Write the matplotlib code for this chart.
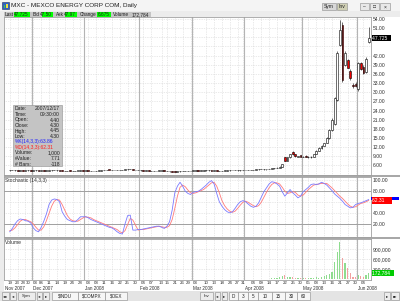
import numpy as np
import pandas as pd
import matplotlib
matplotlib.use("Agg")
import matplotlib.pyplot as plt
from matplotlib.patches import Rectangle
from matplotlib.transforms import blended_transform_factory

# ---------------- Data ----------------
holidays = ["2007-11-22", "2007-12-25", "2008-01-01", "2008-01-21",
            "2008-02-18", "2008-03-21", "2008-05-26"]

opens = [4.35, 4.40, 4.45, 4.35, 4.30, 4.35, 4.30, 4.40, 4.35,
         4.30, 4.35, 4.40, 4.30, 4.35, 4.30, 4.30, 4.35, 4.40, 4.40, 4.40, 4.30, 4.25, 4.20, 4.30, 4.25, 4.20, 4.25, 4.30, 4.35,
         4.30, 4.30, 4.25, 4.20, 4.20, 4.25, 4.30, 4.40, 4.50, 4.60, 4.55, 4.50, 4.45, 4.40, 4.50, 4.60, 4.70, 4.80, 4.75, 4.60, 4.50,
         4.40, 4.35, 4.30, 4.30, 4.25, 4.20, 4.20, 4.25, 4.30, 4.35, 4.30, 4.10, 4.00, 3.95, 3.90, 4.00, 4.10, 4.20, 4.25, 4.20,
         4.25, 4.30, 4.30, 4.25, 4.30, 4.35, 4.40, 4.35, 4.30, 4.30, 4.25, 4.20, 4.25, 4.30, 4.35, 4.40, 4.45, 4.40, 4.35, 4.40,
         4.45, 4.50, 4.55, 4.50, 4.60, 4.70, 4.80, 4.75, 4.70, 4.80, 4.90, 5.00, 5.10, 5.30, 5.60, 8.60, 7.60, 8.70, 10.40, 9.60, 8.80, 9.30,
         8.70, 9.20, 8.60, 8.60, 8.90, 9.70, 10.70, 11.70, 12.50, 13.40, 15.00, 17.50, 19.50, 27.40, 45.50, 52.00, 38.80, 40.50, 37.00, 32.50, 32.60,
         31.20, 39.60, 38.30, 36.50, 46.50]

highs = [4.45, 4.50, 4.45, 4.40, 4.40, 4.40, 4.45, 4.40, 4.40,
         4.40, 4.45, 4.40, 4.40, 4.35, 4.35, 4.40, 4.45, 4.45, 4.45, 4.45, 4.35, 4.30, 4.30, 4.35, 4.30, 4.30, 4.30, 4.40, 4.40,
         4.35, 4.30, 4.30, 4.25, 4.30, 4.35, 4.45, 4.55, 4.65, 4.65, 4.60, 4.55, 4.50, 4.55, 4.65, 4.75, 4.90, 4.85, 4.80, 4.60, 4.55,
         4.45, 4.40, 4.35, 4.35, 4.30, 4.25, 4.30, 4.35, 4.40, 4.40, 4.30, 4.15, 4.05, 4.00, 4.05, 4.15, 4.25, 4.30, 4.30, 4.30,
         4.35, 4.35, 4.35, 4.35, 4.40, 4.45, 4.45, 4.40, 4.35, 4.35, 4.30, 4.30, 4.35, 4.40, 4.45, 4.50, 4.50, 4.45, 4.45, 4.50,
         4.55, 4.60, 4.60, 4.65, 4.75, 4.85, 4.85, 4.80, 4.85, 4.95, 5.05, 5.20, 5.40, 5.70, 6.60, 8.80, 8.70, 9.90, 10.60, 9.80, 9.10, 9.40,
         9.00, 9.30, 9.00, 9.00, 9.80, 10.90, 11.90, 12.70, 13.50, 15.20, 17.80, 21.50, 28.50, 43.50, 53.80, 53.00, 43.50, 41.00, 37.50, 33.00, 33.20,
         40.00, 40.00, 38.80, 41.50, 51.30]

lows = [4.30, 4.35, 4.30, 4.25, 4.25, 4.25, 4.30, 4.30, 4.25,
        4.25, 4.30, 4.25, 4.25, 4.25, 4.25, 4.25, 4.30, 4.35, 4.30, 4.30, 4.20, 4.15, 4.15, 4.20, 4.15, 4.15, 4.20, 4.25, 4.25,
        4.25, 4.20, 4.15, 4.15, 4.15, 4.20, 4.25, 4.35, 4.45, 4.50, 4.45, 4.40, 4.35, 4.35, 4.45, 4.55, 4.65, 4.70, 4.55, 4.45, 4.35,
        4.30, 4.25, 4.25, 4.20, 4.15, 4.15, 4.15, 4.20, 4.25, 4.25, 4.05, 3.95, 3.90, 3.85, 3.85, 3.95, 4.05, 4.15, 4.15, 4.15,
        4.20, 4.25, 4.20, 4.20, 4.25, 4.30, 4.30, 4.25, 4.25, 4.20, 4.15, 4.15, 4.20, 4.25, 4.30, 4.35, 4.35, 4.30, 4.30, 4.35,
        4.40, 4.45, 4.45, 4.45, 4.55, 4.65, 4.70, 4.65, 4.65, 4.75, 4.85, 4.95, 5.05, 5.25, 5.50, 7.40, 7.50, 8.50, 9.50, 8.90, 8.70, 8.70,
        8.60, 8.60, 8.50, 8.50, 8.80, 9.60, 10.60, 11.50, 12.30, 13.20, 14.80, 17.20, 19.20, 27.00, 45.00, 33.50, 38.50, 37.80, 34.00, 31.50, 31.60,
        30.50, 37.20, 36.00, 36.20, 46.00]

closes = [4.40, 4.45, 4.35, 4.30, 4.35, 4.30, 4.40, 4.35, 4.30,
          4.35, 4.40, 4.30, 4.35, 4.30, 4.30, 4.35, 4.40, 4.40, 4.35, 4.30, 4.25, 4.20, 4.30, 4.25, 4.20, 4.25, 4.30, 4.35, 4.30,
          4.30, 4.25, 4.20, 4.20, 4.25, 4.30, 4.40, 4.50, 4.60, 4.55, 4.50, 4.45, 4.40, 4.50, 4.60, 4.70, 4.80, 4.75, 4.60, 4.50, 4.40,
          4.35, 4.30, 4.30, 4.25, 4.20, 4.20, 4.25, 4.30, 4.35, 4.30, 4.10, 4.00, 3.95, 3.90, 4.00, 4.10, 4.20, 4.25, 4.20, 4.25,
          4.30, 4.30, 4.25, 4.30, 4.35, 4.40, 4.35, 4.30, 4.30, 4.25, 4.20, 4.25, 4.30, 4.35, 4.40, 4.45, 4.40, 4.35, 4.40, 4.45,
          4.50, 4.55, 4.50, 4.60, 4.70, 4.80, 4.75, 4.70, 4.80, 4.90, 5.00, 5.10, 5.30, 5.60, 6.40, 7.50, 8.60, 9.70, 9.60, 9.00, 8.90, 8.80,
          8.80, 8.70, 8.90, 8.80, 9.70, 10.70, 11.70, 12.50, 13.30, 15.00, 17.50, 21.00, 28.00, 42.80, 50.40, 34.00, 42.80, 38.00, 34.50, 31.90, 32.00,
          39.60, 37.50, 36.20, 41.05, 47.725]

volumes = [3000, 1500, 2000, 5000, 1000, 2500, 3000, 1200, 4000,
           2000, 3500, 1500, 6000, 2000, 1000, 2500, 3000, 1500, 4000, 1000, 2000, 5000, 1500, 3000, 2000, 1000, 2500, 1200, 3000,
           2000, 4000, 3500, 2500, 1500, 3000, 6000, 8000, 12000, 5000, 4000, 3000, 2500, 6000, 9000, 11000, 15000, 7000, 5000, 4000, 3000,
           2500, 2000, 1500, 3000, 4000, 2000, 2500, 3500, 2000, 3000, 8000, 9000, 6000, 7000, 5000, 4000, 3500, 2000, 2500, 3000,
           2000, 1500, 3000, 2500, 2000, 4000, 3000, 2000, 1500, 2500, 3000, 2000, 2500, 3500, 4000, 5000, 3000, 2500, 3000, 4000,
           5000, 6000, 4000, 7000, 9000, 12000, 8000, 6000, 10000, 15000, 20000, 25000, 35000, 60000, 95000, 110000, 60000, 70000, 55000, 40000, 30000, 35000,
           25000, 30000, 20000, 25000, 40000, 50000, 45000, 60000, 90000, 120000, 150000, 210000, 500000, 800000, 1100000, 630000, 480000, 330000, 180000, 70000, 60000,
           120000, 90000, 60000, 120000, 172784]

# Stochastic (14,3,3): %K blue, %D red
stoch_k = [6, 12, 20, 26, 29, 28, 26, 25, 22, 13,
           8, 6, 14, 25, 38, 55, 63, 65, 64, 60,
           42, 34, 28, 26, 24, 24, 28, 33, 33, 33,
           31, 28, 26, 24, 22, 20, 18, 16, 14, 13,
           10, 6, 3, 2, 20, 35, 36, 9, 9, 10,
           10, 11, 12, 13, 14, 15, 16, 16, 14, 12,
           16, 24, 45, 76, 88, 95, 88, 79, 75, 73,
           77, 78, 79, 82, 86, 90, 95, 98, 92, 75,
           60, 52, 46, 42, 40, 42, 48, 55, 60, 62,
           60, 56, 52, 50, 52, 58, 68, 78, 85, 92,
           96, 95, 92, 88, 78, 70, 76, 82, 76, 72,
           67, 70, 78, 82, 86, 91, 92, 91, 92, 95,
           93, 90, 85, 80, 74, 70, 66, 61, 55, 52,
           49, 50, 55, 57, 58, 60, 62, 63.86]

stoch_d = [8, 9, 13, 19, 25, 28, 28, 26, 24, 20,
           14, 9, 9, 15, 26, 39, 52, 61, 64, 63,
           55, 45, 35, 29, 26, 25, 25, 28, 31, 33,
           32, 31, 28, 26, 24, 22, 20, 18, 16, 14,
           12, 10, 6, 4, 8, 19, 30, 27, 18, 9,
           10, 10, 11, 12, 13, 14, 15, 16, 15, 14,
           14, 17, 28, 48, 70, 86, 90, 87, 81, 76,
           75, 76, 78, 80, 82, 86, 90, 94, 95, 88,
           76, 62, 53, 47, 43, 41, 43, 48, 54, 59,
           61, 59, 56, 53, 51, 53, 59, 68, 77, 85,
           91, 94, 94, 92, 86, 79, 75, 76, 78, 77,
           72, 70, 72, 77, 82, 86, 90, 91, 92, 93,
           93, 93, 89, 85, 80, 75, 70, 66, 61, 56,
           52, 50, 51, 54, 57, 58, 60, 62.31]

tick_dates = ["2007-11-19", "2007-11-23", "2007-11-28", "2007-11-30",
              "2007-12-03", "2007-12-06", "2007-12-11", "2007-12-14", "2007-12-19", "2007-12-24", "2007-12-28",
              "2008-01-03", "2008-01-08", "2008-01-11", "2008-01-16", "2008-01-22", "2008-01-25", "2008-01-30",
              "2008-02-04", "2008-02-07", "2008-02-13", "2008-02-15", "2008-02-21", "2008-02-26", "2008-02-29",
              "2008-03-03", "2008-03-10", "2008-03-13", "2008-03-18", "2008-03-24", "2008-03-27", "2008-03-31",
              "2008-04-04", "2008-04-09", "2008-04-14", "2008-04-17", "2008-04-22", "2008-04-25", "2008-04-30",
              "2008-05-05", "2008-05-08", "2008-05-13", "2008-05-16", "2008-05-21", "2008-05-27", "2008-05-30",
              "2008-06-04"]
month_names = ["Nov 2007", "Dec 2007", "Jan 2008", "Feb 2008", "Mar 2008", "Apr 2008", "May 2008", "Jun 2008"]

price_levels = [6, 9, 12, 15, 18, 21, 24, 27, 30, 33, 36, 39, 42, 45, 48, 51, 54]
price_hidden = [45, 48]          # labels covered by the last-price tag
stoch_levels = [20, 40, 60, 80, 100]
stoch_hidden = [60]
volume_levels = [300000, 600000, 900000]

# ---------------- Setup ----------------
plt.rcParams['font.family'] = ['Liberation Sans', 'DejaVu Sans']
W, H = 400, 301
FS = 3.6
GRID = '#d4d4d4'
SEP = '#b4b4b4'
TXT = '#303030'

days = pd.bdate_range("2007-11-19", "2008-06-06")
days = days[~days.isin(pd.to_datetime(holidays))]
x = np.arange(len(days))
o, h, l, c = map(np.array, (opens, highs, lows, closes))
up = c >= o

tick_bars = [days.get_loc(pd.Timestamp(d)) for d in tick_dates]
month_starts = [0] + [i for i in range(1, len(days)) if days[i].month != days[i - 1].month]

fig = plt.figure(figsize=(W / 100, H / 100), dpi=100, facecolor='#ececec')


def px_axes(x0, y0, x1, y1, **kw):
    """ axes placed by pixel box (top-left origin) """
    return fig.add_axes([x0 / W, 1 - y1 / H, (x1 - x0) / W, (y1 - y0) / H], **kw)


def canvas():
    ax = px_axes(0, 0, W, H)
    ax.set_xlim(0, W)
    ax.set_ylim(H, 0)
    ax.axis('off')
    ax.patch.set_alpha(0)
    return ax


# background layer
bg = canvas()
bg.add_patch(Rectangle((4, 17), 396, 274, fc='white', ec='none'))
for y0 in (175, 237):
    bg.add_patch(Rectangle((4, y0), 396, 2, fc='#a8a8a8', ec='none'))
bg.add_patch(Rectangle((0, 0), W, 11, fc='#f4f4f4', ec='none'))

XL = (-2.19, 137.89)


def style_panel(ax, levels, ylim, fmt, hidden=()):
    ax.set_xlim(*XL)
    ax.set_ylim(*ylim)
    ax.set_xticks(tick_bars)
    ax.set_yticks(levels)
    ax.set_yticklabels(['' if v in hidden else fmt(v) for v in levels])
    ax.yaxis.tick_right()
    ax.tick_params(axis='y', length=0, pad=1.5, labelsize=FS, colors=TXT)
    ax.tick_params(axis='x', length=0, labelbottom=False)
    ax.grid(True, color=GRID, ls=(0, (1, 1.5)), lw=0.5)
    ax.set_axisbelow(True)
    for s in ax.spines.values():
        s.set_color('#a0a0a0')
        s.set_linewidth(0.6)
    for m in month_starts[1:]:
        ax.axvline(m - 0.5, color=SEP, lw=0.8, zorder=1)


# ---------------- Price panel ----------------
ax_p = px_axes(4, 17, 371, 175)
style_panel(ax_p, price_levels, (2.85, 54.66), lambda v: '%.2f' % v, price_hidden)
ax_p.vlines(x, l, h, color='black', lw=0.4, zorder=3)
body_lo = np.minimum(o, c)
body_h = np.maximum(np.abs(c - o), 0.12)
ax_p.bar(x, body_h, bottom=body_lo, width=0.7,
         color=np.where(up, 'white', '#ee0000'), edgecolor='black', lw=0.4, zorder=4)

# ---------------- Stochastic panel ----------------
ax_s = px_axes(4, 177, 371, 237)
style_panel(ax_s, stoch_levels, (-3.4, 104.5), lambda v: '%.2f' % v, stoch_hidden)
for lvl in (20, 80):
    ax_s.axhline(lvl, color='#a0a0a0', lw=0.7, zorder=1)
ax_s.plot(x, stoch_d, color='#ff7a7a', lw=0.6, zorder=3)
ax_s.plot(x, stoch_k, color='#7a7aff', lw=0.6, zorder=4)
ax_s.text(0.004, 0.985, 'Stochastic (14,3,3)', transform=ax_s.transAxes,
          fontsize=FS, va='top', ha='left', color=TXT)

# ---------------- Volume panel ----------------
ax_v = px_axes(4, 239, 371, 280)
style_panel(ax_v, volume_levels, (-30000, 1200000), lambda v: '{:,}'.format(int(v)))
ax_v.bar(x, volumes, width=0.45, color=np.where(up, '#8fdc8f', '#f2a0a0'), zorder=3)
ax_v.text(0.004, 0.975, 'Volume', transform=ax_v.transAxes,
          fontsize=FS, va='top', ha='left', color=TXT)

# date labels (day numbers, then month names below); push crowded labels apart
label_pos = [float(t) for t in tick_bars]
for k in range(1, len(label_pos)):
    if label_pos[k] - label_pos[k - 1] < 2:
        label_pos[k - 1] -= 0.8
        label_pos[k] += 0.8
for k in range(len(label_pos) - 1, 0, -1):
    gap = label_pos[k] - label_pos[k - 1]
    if gap < 2.1:
        label_pos[k - 1] -= 2.1 - gap

trans = blended_transform_factory(ax_v.transData, ax_v.transAxes)
for k, p in enumerate(label_pos):
    ax_v.text(p, -0.075, tick_dates[k][-2:], transform=trans, fontsize=3.2,
              ha='center', va='center', color=TXT)
for k, m in enumerate(month_starts):
    xm = XL[0] + 0.4 if k == 0 else m - 0.1
    ax_v.text(xm, -0.205, month_names[k], transform=trans, fontsize=3.3,
              ha='left', va='center', color=TXT)


# last value tags on the right axis
def tag(ax, val, txt, fc, tc):
    ax.text(1.004, val, txt, transform=blended_transform_factory(ax.transAxes, ax.transData),
            fontsize=FS, color=tc, va='center', ha='left', clip_on=False, zorder=10,
            bbox=dict(boxstyle='square,pad=0.15', fc=fc, ec='none'))


tag(ax_p, closes[-1], '%.3f  ' % closes[-1], 'black', 'white')
# %K strip peeking out above the %D tag
ax_s.add_patch(Rectangle((1.0, stoch_k[-1]), 0.075, 4.5,
                         transform=blended_transform_factory(ax_s.transAxes, ax_s.transData),
                         fc='#0000ff', ec='none', clip_on=False, zorder=9))
tag(ax_s, stoch_d[-1], '%.2f     ' % stoch_d[-1], '#ff0000', 'white')
tag(ax_v, volumes[-1], '{:,}  '.format(volumes[-1]), '#00cc00', 'white')

# ---------------- Window chrome (overlay) ----------------
ov = canvas()

# title bar
ov.add_patch(Rectangle((2, 2), 7, 7, fc='#3060c0', ec='#203060', lw=0.4))
ov.add_patch(Rectangle((3.5, 5), 1.5, 3, fc='#40d040', ec='none'))
ov.add_patch(Rectangle((6, 3.5), 1.5, 4.5, fc='#f0e040', ec='none'))
ov.text(11, 6, 'MXC - MEXCO ENERGY CORP COM, Daily', fontsize=4.6, va='center', color='#202020')


def button(x0, x1, y0, y1, label, fc='#e2e2e2', fs=FS):
    ov.add_patch(Rectangle((x0, y0), x1 - x0, y1 - y0, fc=fc, ec='#8a8a8a', lw=0.4))
    ov.text((x0 + x1) / 2, (y0 + y1) / 2 + 0.3, label, fontsize=fs, ha='center', va='center', color='#202020')


button(322, 336, 3, 10, 'Sym', fc='#d8d8d8')
button(337, 347, 3, 10, 'Inv', fc='#cfcfb4')
button(360, 369, 3, 10, '–', fc='#e8e8e8')
button(370, 379, 3, 10, '□', fc='#e8e8e8')
button(380, 390, 3, 10, '×', fc='#e8e8e8')

# quote line
ov.add_patch(Rectangle((4, 11.5), 147, 5.5, fc='#c4c4c4', ec='none'))
quote = [('Last', 4, 14, 30, '47.725'), ('Bid', 32, 42, 53, '47.50'),
         ('Ask', 55, 65, 77, '47.97'), ('Change', 79, 97, 111, '6.675')]
for lab, lx, gx0, gx1, val in quote:
    ov.text(lx + 1, 14.3, lab, fontsize=3.4, va='center', color='#202020')
    ov.add_patch(Rectangle((gx0, 12), gx1 - gx0, 4.6, fc='#00ff00', ec='none'))
    ov.text(gx1 - 1, 14.3, val, fontsize=3.4, va='center', ha='right', color='#202020')
ov.text(112.5, 14.3, 'Volume', fontsize=3.4, va='center', color='#202020')
ov.text(149, 14.3, '172,784', fontsize=3.4, va='center', ha='right', color='#202020')

# data window
ov.add_patch(Rectangle((13, 105), 49, 61, fc='#c4c4c4', ec='#909090', lw=0.4))
rows = [('Date:', '2007/12/17', '#202020'), ('Time:', '09:30:00', '#202020'),
        ('Open:', '4.40', '#202020'), ('Close:', '4.30', '#202020'),
        ('High:', '4.45', '#202020'), ('Low:', '4.30', '#202020'),
        ('%K(14,3,3):63.86', '', '#2020ff'), ('%D(14,3,3):62.31', '', '#ff2020'),
        ('Volume:', '1,000', '#202020'), ('#Value:', '7.71', '#202020'),
        ('# Bars:', '-118', '#202020')]
for k, (lab, val, col) in enumerate(rows):
    yy = 109 + k * 5.5
    ov.text(15, yy, lab, fontsize=FS, va='center', color=col)
    if val:
        ov.text(60, yy, val, fontsize=FS, va='center', ha='right', color=col)

# bottom navigation bar
ov.add_patch(Rectangle((0, 291), W, 10, fc='#e4e4e4', ec='none'))
nav = [(2, 9, '◂◂'), (10, 16, '◂'), (18, 35, 'Sym'), (37, 42, '◂'), (43, 49, '▸'),
       (200, 213, 'Inv'), (215, 220, '◂'), (222, 227, '▸'),
       (384, 390, '▸'), (391, 399, '▸▸')]
for x0, x1, lab in nav:
    button(x0, x1, 292, 299.5, lab, fc='#ececec', fs=3.2)
tabs = [(52, 78, '$INDU'), (78, 105, '$COMPX'), (105, 127, '$OEX'),
        (229, 238, 'D'), (238, 248, '3'), (248, 258, '5'), (258, 272, '10'),
        (272, 285, '15'), (285, 297, '30'), (297, 310, '60')]
for x0, x1, lab in tabs:
    button(x0, x1, 292, 299.5, lab, fc='#f6f6f6', fs=3.3)

fig.savefig('out.png', dpi=100, facecolor=fig.get_facecolor())
